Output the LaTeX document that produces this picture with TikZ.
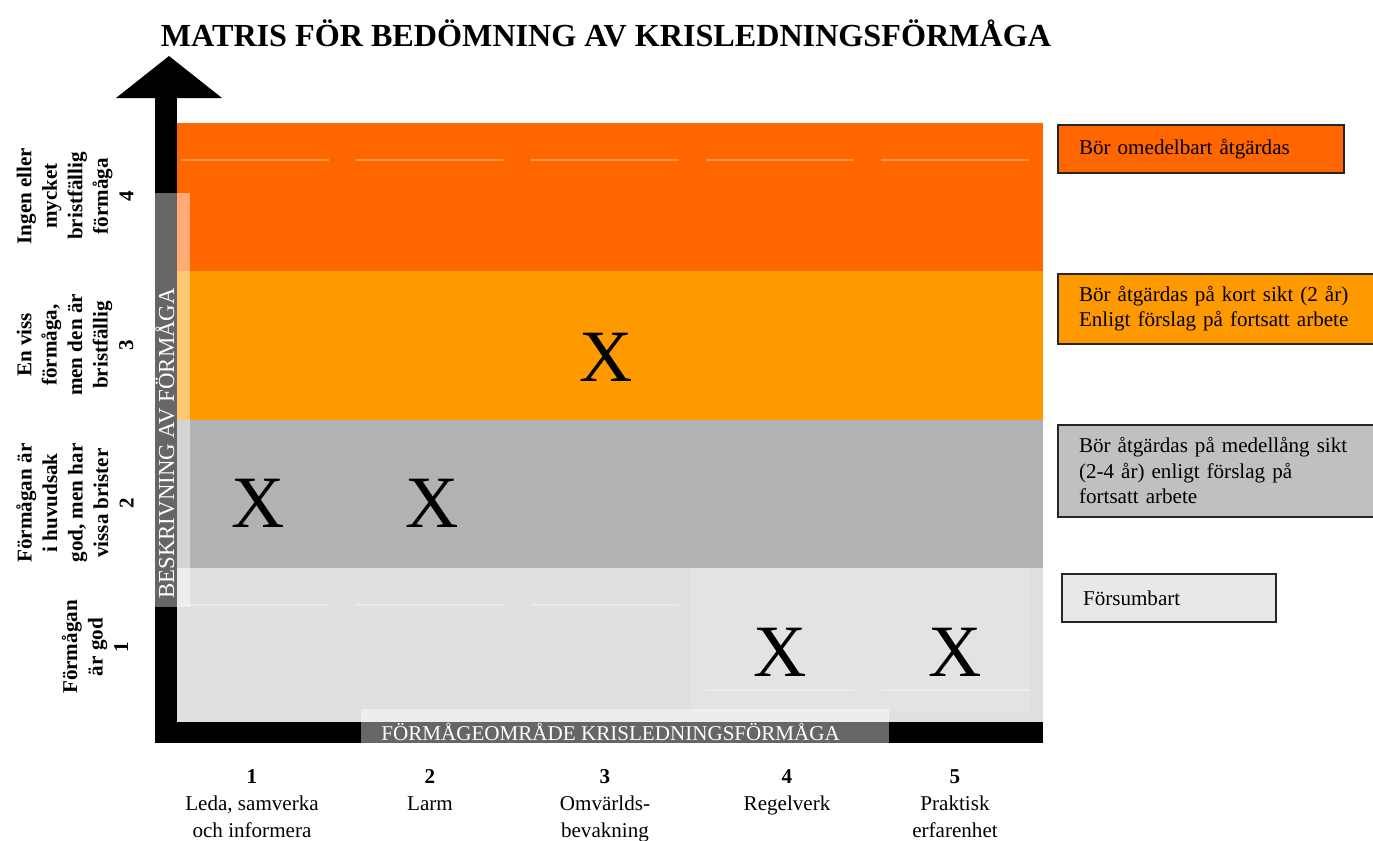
\documentclass[tikz,border=0pt,12pt]{standalone}
\usepackage{fontspec}
\setmainfont{Liberation Serif}
\usetikzlibrary{positioning,calc}
\definecolor{darkorange}{HTML}{FF6600}
\definecolor{lightorange}{HTML}{FF9900}
\definecolor{midgray}{HTML}{B2B2B2}
\definecolor{palegray}{HTML}{E0E0E0}
\definecolor{axisgray}{HTML}{666666}
\definecolor{legendgray}{HTML}{C0C0C0}
\definecolor{legendpale}{HTML}{E8E8E8}
\tikzset{
cellline/.style = {white, opacity=0.3, line width=0.6pt},
glare/.style = {fill=white, opacity=0.45},
rowlabel/.style = {rotate=90, align=center, font=\bfseries, inner sep=0pt},
collabel/.style = {align=center, anchor=north, inner sep=0pt, font=\fontsize{12}{15.5}\selectfont},
xmark/.style = {font=\fontsize{42}{42}\selectfont, inner sep=0pt},
legend/.style = {draw=black!85, line width=1.1pt, anchor=north west, align=left, inner xsep=12pt, inner ysep=0pt},
axislabel/.style = {text=white, inner sep=0pt}
}

\begin{document}
\begin{tikzpicture}[x=0.02cm, y=-0.02cm]
    \useasboundingbox (0,0) rectangle (1373,840);
    \node [font=\fontsize{18.3}{22}\selectfont\bfseries] (title) at (606,33) {MATRIS FÖR BEDÖMNING AV KRISLEDNINGSFÖRMÅGA};
    % rows of the matrix
    \fill [darkorange] (177,123) rectangle (1043,271);
    \fill [lightorange] (177,271) rectangle (1043,420);
    \fill [midgray] (177,420) rectangle (1043,568);
    \fill [palegray] (177,568) rectangle (1043,722);
    \fill [white, opacity=0.1] (690,568) rectangle (1030,712);
    \foreach \x in {181,356,531,706,881}
        \draw [cellline] (\x,160) -- ++(148,0);
    \foreach \x in {181,356,531}
        \draw [cellline] (\x,605) -- ++(148,0);
    \foreach \x in {706,881}
        \draw [cellline] (\x,690) -- ++(148,0);
    % axes
    \fill [black] (155,98) rectangle (177,743);
    \fill [black] (155,722) rectangle (1043,743);
    \fill [black] (116,98) -- (169,56) -- (222,98) -- cycle;
    \fill [axisgray] (155,193) rectangle (177,607);
    \fill [glare] (177,193) rectangle (190,607);
    \fill [axisgray] (361,722) rectangle (889,743);
    \fill [glare] (361,709) rectangle (889,722);
    \node [axislabel, rotate=90, anchor=west, font=\fontsize{13}{15}\selectfont] (ylabel) at (165,599) {BESKRIVNING AV FÖRMÅGA};
    \node [axislabel, anchor=west] (xlabel) at (381,732) {FÖRMÅGEOMRÅDE KRISLEDNINGSFÖRMÅGA};
    % row labels
    \node [rowlabel] (row4) at (75,196) {Ingen eller\\mycket\\bristfällig\\förmåga\\4};
    \node [rowlabel] (row3) at (75,345) {En viss\\förmåga,\\men den är\\bristfällig\\3};
    \node [rowlabel] (row2) at (75,503) {Förmågan är\\i huvudsak\\god, men har\\vissa brister\\2};
    \node [rowlabel] (row1) at (95,647) {Förmågan\\är god\\1};
    % column labels
    \foreach \n/\x/\txt in {1/252/{Leda, samverka\\och informera}, 2/430/Larm, 3/605/{Omvärlds-\\bevakning}, 4/787/Regelverk, 5/955/{Praktisk\\erfarenhet}}
        \node [collabel] (col\n) at (\x,769) {\textbf{\n}\\\txt};
    % assessments
    \node [xmark] (x12) at (258,503) {X};
    \node [xmark] (x22) at (432,503) {X};
    \node [xmark] (x33) at (606,357) {X};
    \node [xmark] (x41) at (780,652) {X};
    \node [xmark] (x51) at (955,652) {X};
    % legend
    \node [legend, fill=darkorange, text width=138.7pt, minimum height=27.2pt] (leg4) at (1057,124) {Bör omedelbart åtgärdas};
    \node [legend, fill=lightorange, text width=159pt, minimum height=39.7pt] (leg3) at (1057,273) {Bör åtgärdas på kort sikt (2 år)\\Enligt förslag på fortsatt arbete};
    \node [legend, fill=legendgray, text width=159pt, minimum height=52.2pt] (leg2) at (1057,424) {Bör åtgärdas på medellång sikt\\(2-4 år) enligt förslag på\\fortsatt arbete};
    \node [legend, fill=legendpale, text width=97.9pt, minimum height=27.2pt] (leg1) at (1061,573) {Försumbart};
\end{tikzpicture}
\end{document}
